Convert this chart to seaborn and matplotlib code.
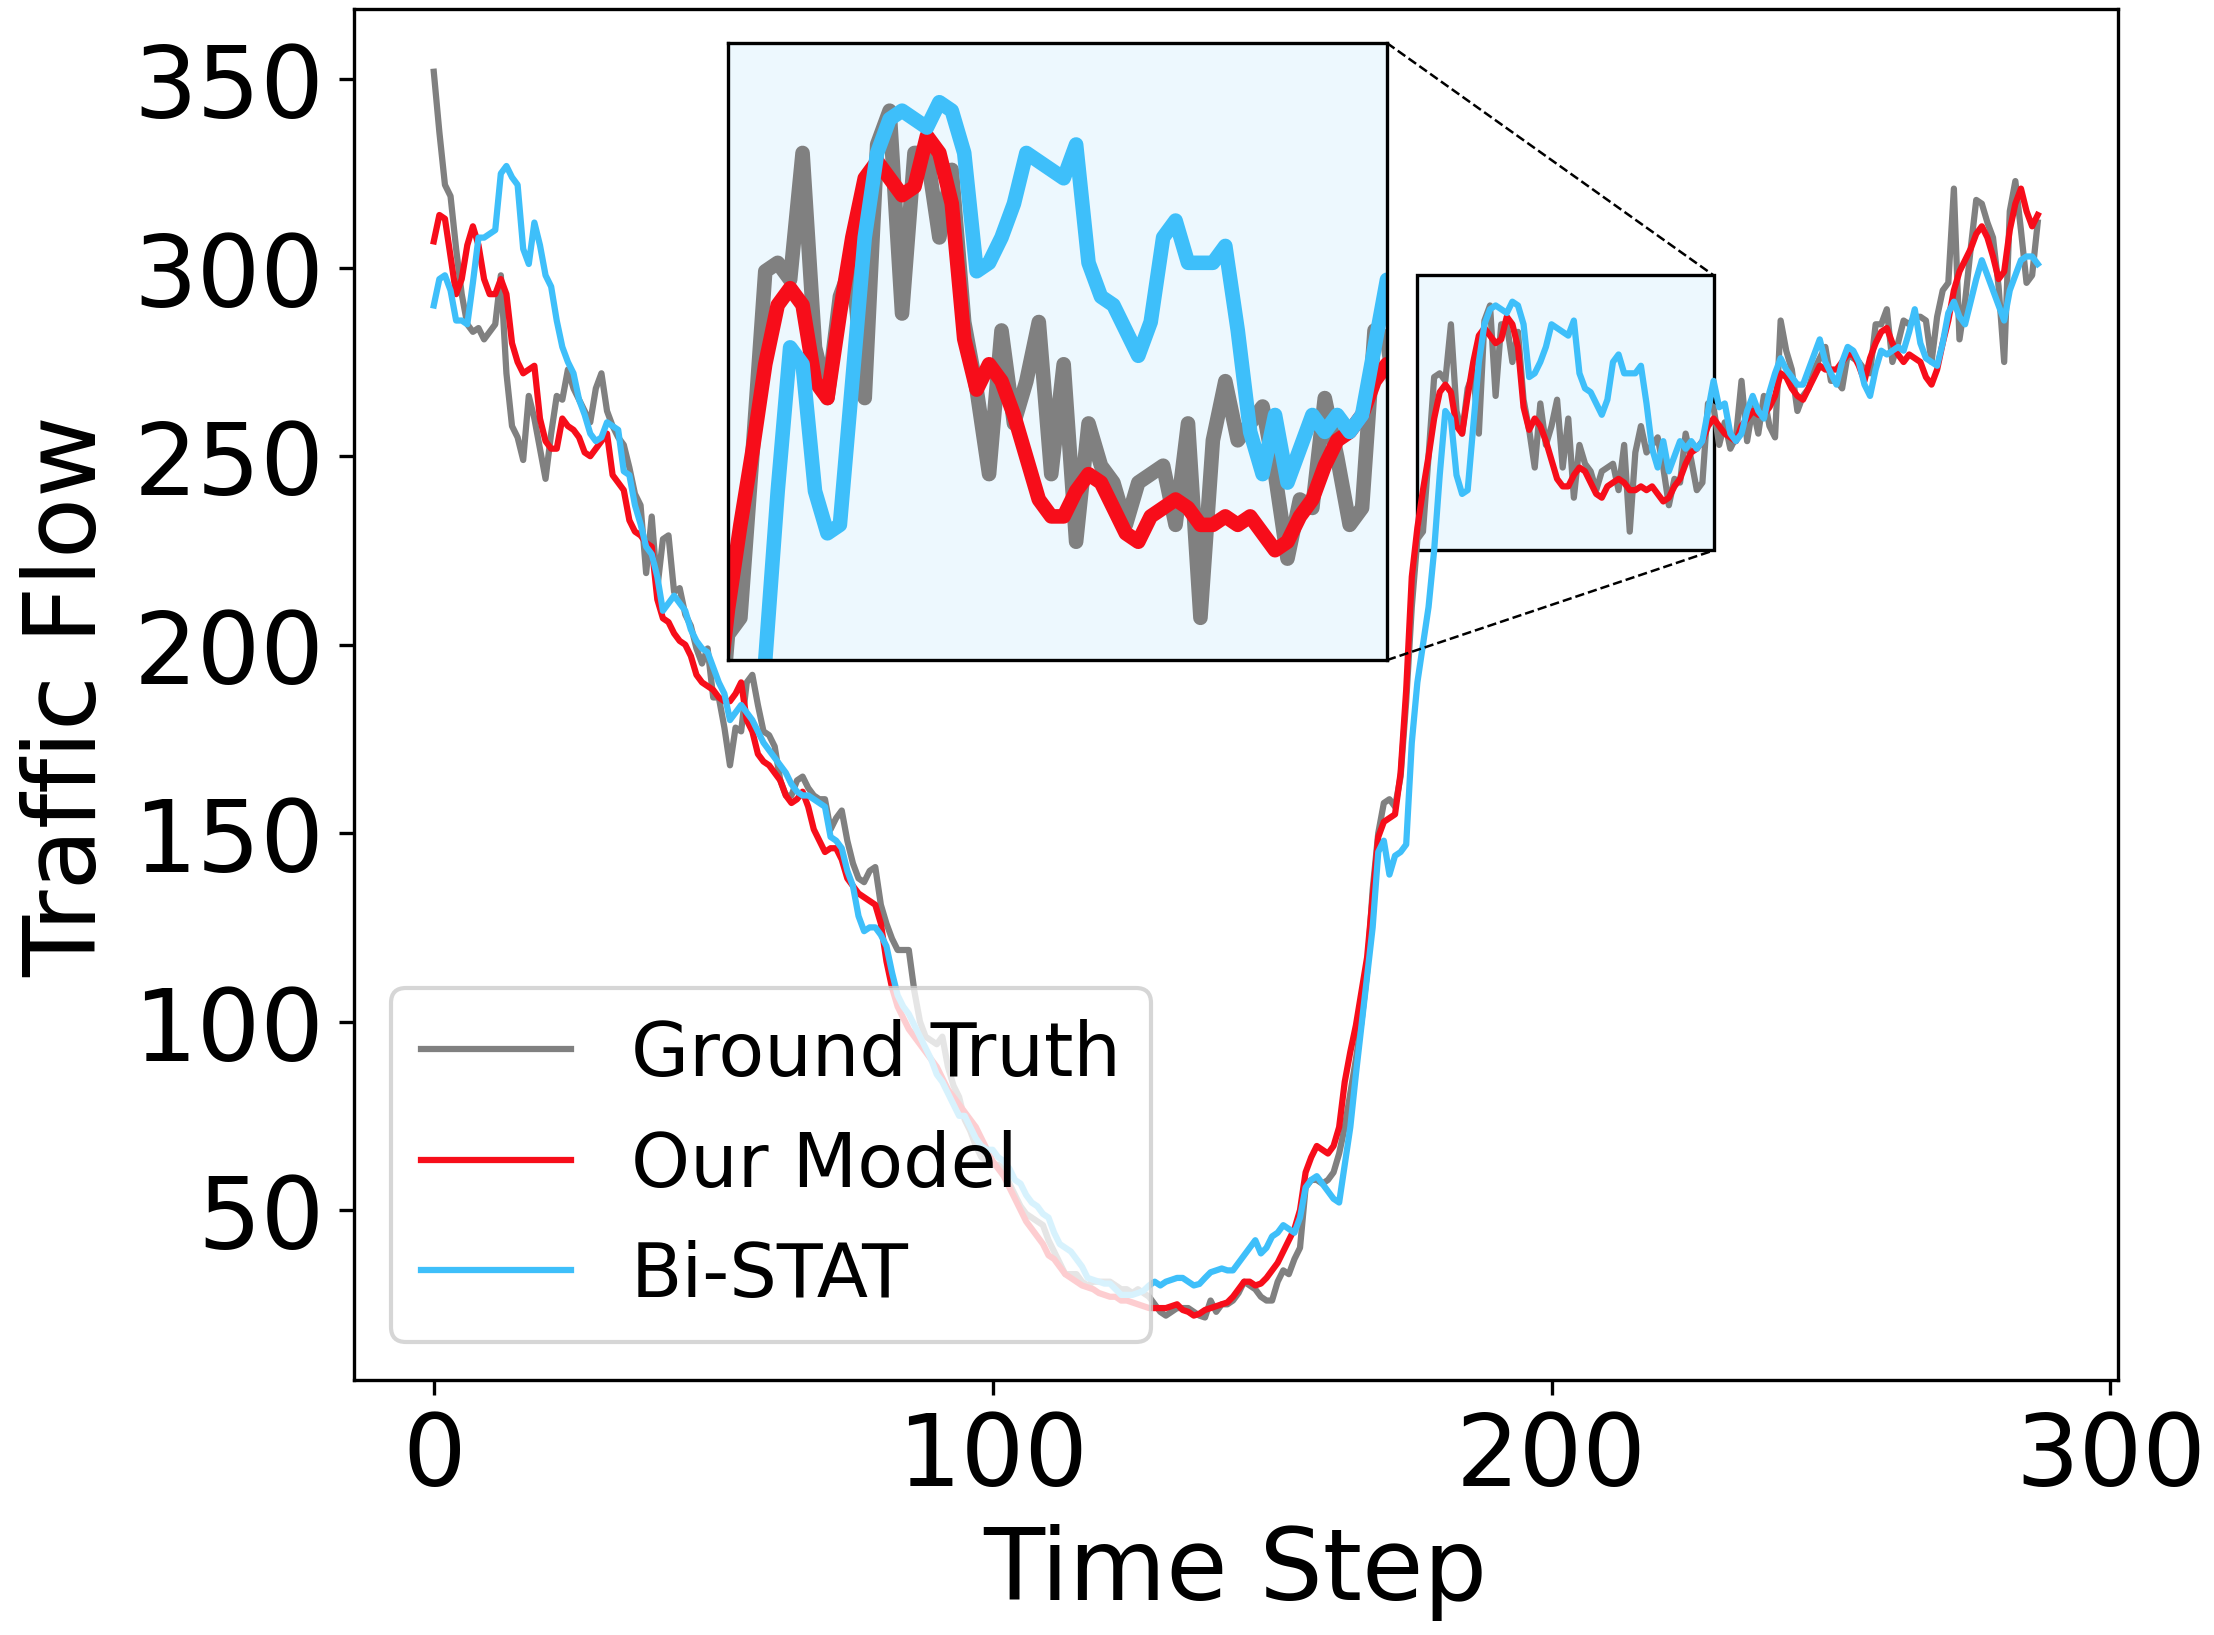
import numpy as np
import matplotlib
matplotlib.use("Agg")
import matplotlib.pyplot as plt
import seaborn as sns
from mpl_toolkits.axes_grid1.inset_locator import mark_inset

# one value every 5-minute step (288 steps)
steps = np.arange(288)

ground_truth = [
    352, 336, 322, 319, 305, 293, 285, 283, 284, 281,
    283, 285, 298, 272, 258, 255, 249, 266, 260, 252,
    244, 256, 266, 265, 273, 268, 265, 262, 259, 268,
    272, 262, 258, 255, 253, 247, 240, 237, 219, 234,
    215, 228, 229, 214, 215, 208, 205, 199, 195, 199,
    186, 186, 178, 168, 178, 177, 190, 192, 184, 177,
    176, 173, 164, 160, 160, 164, 165, 162, 160, 159,
    159, 151, 154, 156, 148, 142, 138, 137, 140, 141,
    131, 126, 122, 119, 119, 119, 108, 100, 96, 95,
    94, 96, 88, 83, 80, 74, 71, 67, 64, 63,
    62, 62, 61, 57, 54, 51, 49, 48, 47, 46,
    42, 39, 36, 33, 33, 33, 31, 30, 31, 31,
    31, 31, 30, 29, 29, 28, 29, 28, 27, 25,
    23, 22, 23, 24, 24, 24, 23, 22, 21.5, 26,
    23, 25, 25, 26, 28, 31, 30, 29, 27, 26,
    26, 31, 34, 33, 37, 40, 56, 58, 58, 57,
    58, 60, 65, 72, 81, 90, 100, 113, 135, 150,
    158, 159, 157, 165, 185, 210, 228, 230, 250, 271,
    272, 270, 285, 262, 256, 268, 272, 256, 286, 290,
    266, 285, 285, 275, 283, 265, 257, 247, 264, 253,
    258, 265, 247, 260, 239, 253, 248, 246, 241, 246,
    247, 248, 241, 253, 230, 251, 258, 251, 253, 255,
    247, 237, 244, 243, 256, 249, 241, 243, 264, 263,
    253, 259, 252, 255, 270, 254, 263, 256, 266, 258,
    255, 286, 278, 273, 262, 266, 268, 273, 276, 279,
    270, 270, 268, 277, 276, 275, 273, 272, 285, 285,
    289, 275, 280, 286, 285, 287, 287, 286, 275, 287,
    294, 296, 321, 281, 291, 305, 318, 317, 312, 308,
    295, 275, 315, 323, 310, 296, 298, 312,
]

our_model = [
    307, 314, 313, 303, 293, 297, 306, 311, 306, 297,
    293, 293, 297, 293, 280, 275, 272, 273, 274, 260,
    254, 252, 252, 260, 258, 257, 255, 251, 250, 252,
    254, 256, 245, 243, 241, 233, 230, 229, 227, 226,
    212, 207, 206, 203, 201, 200, 197, 192, 190, 189,
    188, 186, 185, 185, 187, 190, 180, 177, 171, 169,
    168, 166, 164, 160, 158, 159, 161, 157, 151, 148,
    145, 146, 146, 143, 138, 136, 134, 133, 132, 131,
    126, 116, 109, 104, 101, 98, 96, 94, 92, 90,
    88, 85, 82, 80, 78, 76, 74, 72, 69, 66,
    63, 61, 59, 56, 53, 50, 47, 45, 43, 41,
    38, 37, 35, 33, 32, 31, 30, 29.5, 29, 28,
    27.5, 27, 27, 26, 26, 25.5, 25, 24.5, 24, 24,
    24, 24, 24.5, 25, 23.5, 23, 22, 22.5, 23.5, 24,
    24.5, 25, 25.5, 27, 29, 31, 31, 30, 30.5, 32,
    34, 36, 39, 42, 45, 50, 60, 64, 67, 66,
    65, 67, 72, 84, 92, 99, 108, 117, 133, 149,
    153, 154, 155, 166, 188, 218, 231, 241, 250, 260,
    267, 269, 267, 258, 256, 266, 275, 282, 284, 282,
    280, 281, 287, 285, 279, 263, 257, 260, 258, 254,
    249, 244, 242, 242, 245, 247, 246, 243, 240, 239,
    242, 243, 244, 243, 241, 241, 242, 241, 242, 240,
    238, 239, 242, 244, 248, 251, 252, 254, 258, 260,
    258, 256, 255, 254, 258, 260, 262, 261, 261, 263,
    266, 272, 271, 268, 266, 265, 268, 271, 274, 273,
    273, 273, 275, 277, 277, 274, 270, 276, 280, 283,
    284, 280, 277, 275, 277, 276, 275, 271, 269, 273,
    280, 286, 294, 299, 302, 305, 309, 311, 308, 303,
    297, 299, 310, 317, 321, 315, 311, 314,
]

bi_stat = [
    290, 297, 298, 294, 286, 286, 285, 296, 308, 308,
    309, 310, 325, 327, 324, 322, 305, 301, 312, 306,
    298, 295, 286, 279, 275, 272, 265, 261, 256, 254,
    255, 259, 258, 257, 246, 245, 237, 232, 226, 224,
    218, 209, 211, 213, 211, 209, 204, 201, 199, 198,
    194, 190, 187, 180, 182, 184, 182, 180, 177, 174,
    172, 170, 168, 166, 163, 161, 160, 160, 159, 158,
    157, 149, 148, 146, 140, 136, 128, 124, 125, 125,
    123, 120, 113, 107, 104, 102, 99, 96, 93, 90,
    86, 84, 81, 78, 75, 75, 72, 69, 67, 66,
    66, 64, 63, 61, 58, 57, 54, 52, 51, 49,
    48, 44, 41, 40, 39, 37, 35, 32, 31.5, 31,
    30.5, 30.5, 29, 27.5, 27.5, 27.5, 28, 28.6, 30, 31,
    30, 31, 31.5, 32, 32, 31, 30, 30.4, 32, 33.5,
    34, 34.5, 34, 34, 36, 38, 40, 42, 38.5, 40,
    43, 44, 46, 45, 44, 48, 56, 58, 59, 57,
    55, 53, 52, 62, 72, 86, 99, 112, 125, 145,
    148, 139, 144, 145, 147, 174, 190, 200, 210, 225,
    245, 262, 260, 245, 240, 241, 258, 275, 285, 289,
    290, 289, 288, 291, 290, 285, 271, 272, 275, 279,
    285, 284, 283, 282, 286, 272, 268, 267, 264, 261,
    265, 275, 277, 272, 272, 272, 274, 264, 252, 247,
    254, 246, 250, 254, 252, 254, 252, 254, 262, 270,
    263, 264, 256, 254, 256, 262, 266, 262, 260, 267,
    272, 276, 273, 271, 269, 269, 273, 277, 281, 275,
    272, 269, 275, 279, 278, 275, 269, 266, 273, 278,
    277, 278, 279, 278, 283, 289, 280, 276, 275, 274,
    280, 288, 291, 287, 285, 291, 297, 302, 298, 294,
    290, 286, 294, 298, 302, 303, 303, 301,
]

cols = {'gt': '#808080', 'ours': '#f70d1a', 'bistat': '#3ebffa'}
zoom_bg = '#edf8fe'

fig = plt.figure(figsize=(7.38, 5.4533), dpi=300)
ax = fig.add_axes([0.1597, 0.156, 0.7969, 0.8376])

sns.lineplot(x=steps, y=ground_truth, color=cols['gt'], lw=1.5, label='Ground Truth', ax=ax)
sns.lineplot(x=steps, y=our_model, color=cols['ours'], lw=1.5, label='Our Model', ax=ax)
sns.lineplot(x=steps, y=bi_stat, color=cols['bistat'], lw=1.5, label='Bi-STAT', ax=ax)

ax.set_xticks([0, 100, 200, 300])
ax.set_yticks([50, 100, 150, 200, 250, 300, 350])
ax.tick_params(labelsize=24)
ax.set_xlabel('Time Step', fontsize=24)
ax.set_ylabel('Traffic Flow', fontsize=24)
ax.legend(loc='lower left', fontsize=18)

# zoomed view of the morning rise
axins = ax.inset_axes([0.2122, 0.5252, 0.3735, 0.4503])
sns.lineplot(x=steps, y=ground_truth, color=cols['gt'], lw=3.5, ax=axins, legend=False)
sns.lineplot(x=steps, y=our_model, color=cols['ours'], lw=3.5, ax=axins, legend=False)
sns.lineplot(x=steps, y=bi_stat, color=cols['bistat'], lw=3.5, ax=axins, legend=False)
axins.set_xlim(176, 229)
axins.set_ylim(225, 298)
axins.set_xticks([]); axins.set_yticks([])
axins.set_xlabel(''); axins.set_ylabel('')
axins.set_facecolor(zoom_bg)

pp, p1, p2 = mark_inset(ax, axins, loc1=1, loc2=4, fc=zoom_bg, ec='black', lw=0.6, ls='--')
pp.set_linestyle('-')
pp.set_linewidth(0.8)

fig.savefig('out.png', dpi=300)
